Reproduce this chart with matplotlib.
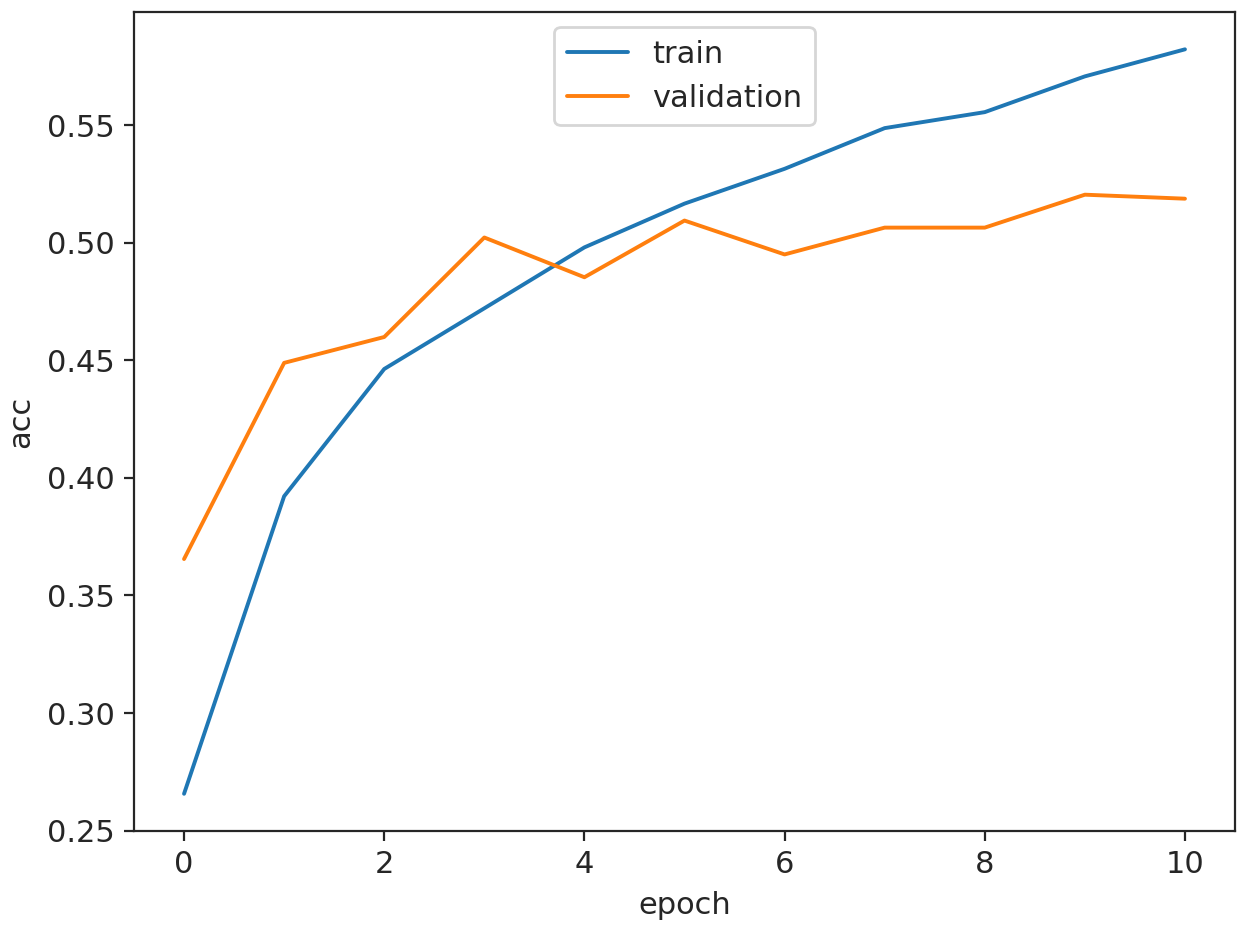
import matplotlib
matplotlib.use("Agg")
import matplotlib.pyplot as plt
import seaborn as sns

epochs = list(range(11))
train_acc = [0.2657, 0.3922, 0.4463, 0.4721, 0.4980, 0.5166, 0.5314, 0.5487, 0.5555, 0.5707, 0.5822]
val_acc = [0.3655, 0.4489, 0.4599, 0.5022, 0.4853, 0.5094, 0.4950, 0.5064, 0.5064, 0.5204, 0.5187]

sns.set_style("ticks")
plt.rcParams['font.family'] = ['DejaVu Sans']
plt.rcParams['font.size'] = 11
plt.rcParams['xtick.labelsize'] = 11
plt.rcParams['ytick.labelsize'] = 11
plt.rcParams['axes.labelsize'] = 11
plt.rcParams['legend.fontsize'] = 11

fig = plt.figure(figsize=(6.25, 4.655), dpi=200)
ax = fig.add_axes([0.1072, 0.1074, 0.988 - 0.1072, 0.987 - 0.1074])
ax.plot(epochs, train_acc, color="#1f77b4", label="train", lw=1.4)
ax.plot(epochs, val_acc, color="#ff7f0e", label="validation", lw=1.4)
ax.set_xlabel("epoch")
ax.set_ylabel("acc")
ax.legend(loc="upper center")
fig.savefig("out.png", dpi=200)
